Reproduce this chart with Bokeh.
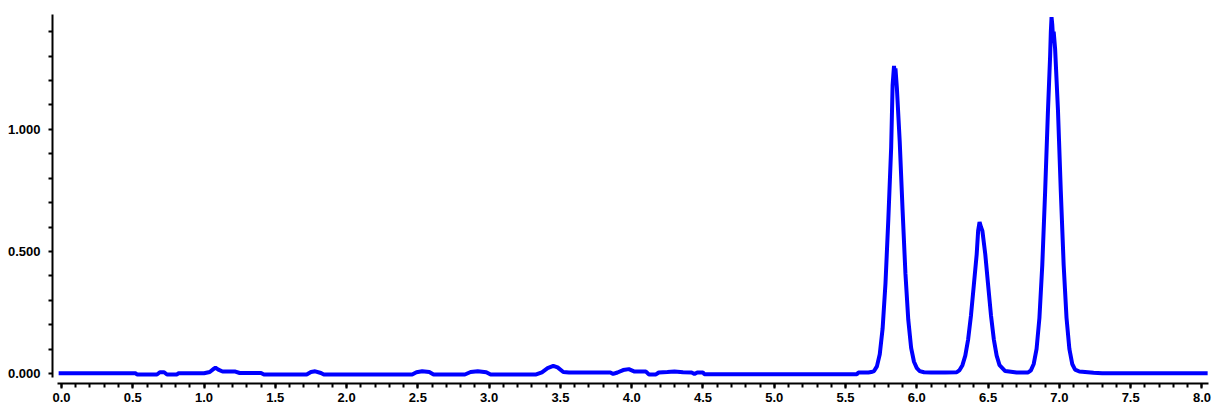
from bokeh.plotting import figure
from bokeh.models import Range1d, FixedTicker, NumeralTickFormatter
from bokeh.embed import file_html
from bokeh.resources import INLINE

# ---- data ----
baseline_x = [-0.02, 0.52, 0.53, 0.67, 0.69, 0.72, 0.74, 0.81, 0.82, 1.00, 1.04, 1.07, 1.08, 1.10, 1.13,
              1.22, 1.25, 1.40, 1.42, 1.72, 1.75, 1.78, 1.82, 1.84, 2.46, 2.49, 2.53, 2.58, 2.61,
              2.83, 2.87, 2.92, 2.98, 3.01, 3.33, 3.37, 3.41, 3.45, 3.48, 3.52, 3.56, 3.85, 3.87,
              3.90, 3.94, 3.98, 4.02, 4.10, 4.12, 4.17, 4.19, 4.25, 4.30, 4.36, 4.42, 4.44, 4.46,
              4.50, 4.51, 5.58, 5.59]
baseline_y = [0.001, 0.001, -0.004, -0.004, 0.005, 0.005, -0.004, -0.004, 0.001, 0.001, 0.006, 0.020, 0.024, 0.016, 0.008,
              0.008, 0.002, 0.002, -0.004, -0.004, 0.006, 0.009, 0.002, -0.004, -0.004, 0.005, 0.009, 0.006, -0.004,
              -0.004, 0.006, 0.009, 0.005, -0.004, -0.004, 0.005, 0.022, 0.031, 0.025, 0.006, 0.004, 0.004, -0.002,
              0.004, 0.014, 0.018, 0.008, 0.008, -0.004, -0.004, 0.004, 0.006, 0.008, 0.005, 0.004, -0.002, 0.004,
              0.004, -0.003, -0.003, 0.004]

peaks_x = [5.66, 5.68, 5.70, 5.72, 5.74, 5.76, 5.78, 5.80, 5.82, 5.83, 5.84, 5.845, 5.85, 5.86, 5.88, 5.90,
           5.92, 5.94, 5.96, 5.98, 6.00, 6.02, 6.05, 6.10, 6.20, 6.28, 6.30, 6.32, 6.34, 6.36, 6.38, 6.40,
           6.42, 6.43, 6.44, 6.45, 6.46, 6.48, 6.50, 6.52, 6.54, 6.56, 6.58, 6.62, 6.70, 6.78, 6.80, 6.82,
           6.84, 6.86, 6.88, 6.90, 6.92, 6.935, 6.94, 6.945, 6.95, 6.955, 6.96, 6.97, 6.99, 7.01, 7.03, 7.05,
           7.07, 7.09, 7.11, 7.14, 7.18, 7.24, 7.30, 8.04]
peaks_y = [0.004, 0.006, 0.010, 0.029, 0.079, 0.184, 0.368, 0.631, 0.926, 1.18, 1.26, 1.22, 1.25, 1.17, 0.95, 0.67,
           0.41, 0.22, 0.105, 0.048, 0.022, 0.010, 0.005, 0.004, 0.004, 0.005, 0.014, 0.034, 0.073, 0.140, 0.239, 0.363,
           0.489, 0.584, 0.62, 0.60, 0.584, 0.489, 0.363, 0.239, 0.140, 0.073, 0.034, 0.010, 0.004, 0.004, 0.013, 0.039,
           0.101, 0.228, 0.444, 0.745, 1.079, 1.30, 1.40, 1.46, 1.43, 1.38, 1.40, 1.33, 1.079, 0.745, 0.444, 0.228,
           0.101, 0.039, 0.016, 0.008, 0.006, 0.003, 0.001, 0.001]

xs = baseline_x + peaks_x
ys = baseline_y + peaks_y

x_major = [0.0, 0.5, 1.0, 1.5, 2.0, 2.5, 3.0, 3.5, 4.0, 4.5, 5.0, 5.5, 6.0, 6.5, 7.0, 7.5, 8.0]
x_minor = [round(i * 0.1, 1) for i in range(0, 81)]
y_major = [0.0, 0.5, 1.0]
y_minor = [0.1, 0.2, 0.3, 0.4, 0.6, 0.7, 0.8, 0.9, 1.1, 1.2, 1.3, 1.4]

p = figure(width=1221, height=409, output_backend="svg", toolbar_location=None,
           x_range=Range1d(-0.063, 8.06), y_range=Range1d(-0.041, 1.487),
           min_border_left=52, min_border_right=11, min_border_top=10, min_border_bottom=26)
p.outline_line_color = None
p.grid.visible = False
p.background_fill_color = "white"

p.line(xs, ys, line_color="#0000FF", line_width=4)

font = "Liberation Sans"
for ax in (p.xaxis[0], p.yaxis[0]):
    ax.axis_line_width = 2
    ax.axis_line_color = "black"
    ax.major_tick_in = 0
    ax.minor_tick_in = 0
    ax.major_tick_line_width = 2
    ax.minor_tick_line_width = 2
    ax.major_label_text_font = font
    ax.major_label_text_font_style = "bold"
    ax.major_label_text_font_size = "13px"
    ax.major_label_text_color = "black"

xa = p.xaxis[0]
xa.ticker = FixedTicker(ticks=x_major, minor_ticks=x_minor)
xa.formatter = NumeralTickFormatter(format="0.0")
xa.major_tick_out = 5
xa.minor_tick_out = 4
xa.major_label_standoff = 4
xa.bounds = (-0.028, 8.043)

ya = p.yaxis[0]
ya.ticker = FixedTicker(ticks=y_major, minor_ticks=y_minor)
ya.formatter = NumeralTickFormatter(format="0.000")
ya.major_tick_out = 4
ya.minor_tick_out = 4
ya.major_label_standoff = 8
ya.bounds = (-0.016, 1.471)

open("out.html", "w").write(file_html(p, INLINE))
